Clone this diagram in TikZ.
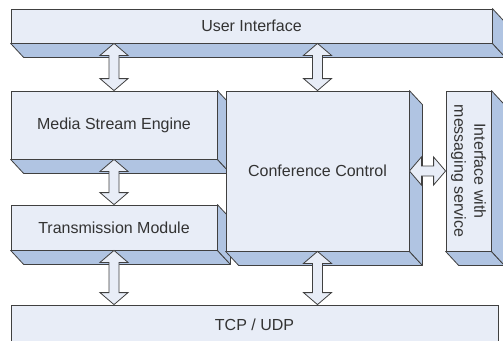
\documentclass[tikz,border=0pt]{standalone}
\usepackage{fontspec}
\setmainfont{Liberation Sans}
\usetikzlibrary{calc}

\definecolor{faceblue}{HTML}{E8EDF7}
\definecolor{sideblue}{HTML}{B0C4E2}
\definecolor{edgegray}{HTML}{404040}

\tikzset{
  front/.style={draw=edgegray, fill=faceblue, line width=0.8pt, inner sep=0pt,
    font=\fontsize{16}{20}\selectfont, text=black!80},
  side/.style={draw=edgegray, fill=sideblue, line width=0.8pt, line join=round},
  fatarrow/.style={draw=edgegray, fill=faceblue, line width=0.8pt, line join=miter}
}

% bottom and right faces of a raised block
\newcommand\extrude[1]{%
  \path[side] (#1.south west) -- (#1.south east) -- ++(13,14)
    -- ($(#1.south west)+(13,14)$) -- cycle;
  \path[side] (#1.north east) -- ++(13,14) -- ($(#1.south east)+(13,14)$)
    -- (#1.south east) -- cycle;
}

% hollow two-headed arrow between two points
\newcommand\dblarrow[2]{%
  \path[fatarrow]
    (#1)
    -- ($($(#1)!12pt!(#2)$)!14pt!90:(#2)$)
    -- ($($(#1)!12pt!(#2)$)!5pt!90:(#2)$)
    -- ($($(#2)!12pt!(#1)$)!5pt!-90:(#1)$)
    -- ($($(#2)!12pt!(#1)$)!14pt!-90:(#1)$)
    -- (#2)
    -- ($($(#2)!12pt!(#1)$)!14pt!90:(#1)$)
    -- ($($(#2)!12pt!(#1)$)!5pt!90:(#1)$)
    -- ($($(#1)!12pt!(#2)$)!5pt!-90:(#2)$)
    -- ($($(#1)!12pt!(#2)$)!14pt!-90:(#2)$)
    -- cycle;
}

\begin{document}
\begin{tikzpicture}[x=1pt, y=-1pt]
  \useasboundingbox (0,0) rectangle (503,340);

  % blocks
  \node[front, minimum width=481pt, minimum height=34pt] (ui) at (251.5,26) {User Interface};
  \extrude{ui}

  \node[front, minimum width=206pt, minimum height=68pt] (mse) at (114,125) {Media Stream Engine};
  \extrude{mse}

  \node[front, minimum width=206pt, minimum height=45pt] (tm) at (114,227.5) {Transmission Module};
  \extrude{tm}

  \node[front, minimum width=183pt, minimum height=160pt] (cc) at (317.5,171) {Conference Control};
  \extrude{cc}

  \node[front, minimum width=45pt, minimum height=160pt] (ims) at (468.5,171) {};
  \extrude{ims}
  \node[font=\fontsize{16}{20}\selectfont, text=black!80, align=center, rotate=-90]
    (imstext) at (ims.center) {Interface with\\messaging service};

  \node[front, minimum width=487pt, minimum height=40pt] (tcp) at (254.5,325) {TCP / UDP};

  % connectors
  \coordinate (a1) at (mse.north |- ui.south);
  \dblarrow{a1}{mse.north}
  \coordinate (a2) at (cc.north |- ui.south);
  \dblarrow{a2}{cc.north}
  \dblarrow{mse.south}{tm.north}
  \coordinate (a3) at (tm.south |- tcp.north);
  \dblarrow{tm.south}{a3}
  \coordinate (a4) at (cc.south |- tcp.north);
  \dblarrow{cc.south}{a4}
  \dblarrow{cc.east}{ims.west}
\end{tikzpicture}
\end{document}
